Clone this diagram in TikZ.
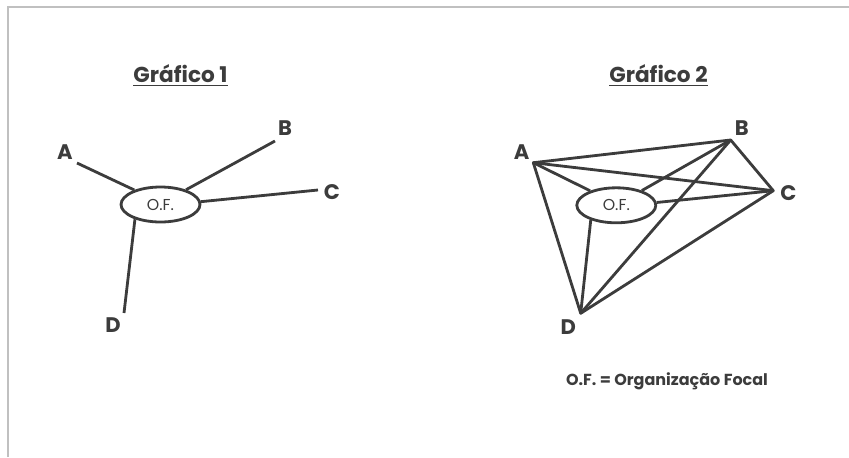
\documentclass[tikz,border=0pt]{standalone}
\usepackage{fontspec}
\setmainfont{Poppins}
\usetikzlibrary{shapes.geometric}
\definecolor{inkgray}{RGB}{60,60,60}
\definecolor{framegray}{RGB}{192,192,192}

\begin{document}
\begin{tikzpicture}[x=0.02cm, y=-0.02cm,
  edge/.style={inkgray, line width=1.6pt},
  ofnode/.style={ellipse, draw=inkgray, line width=1.6pt, minimum width=1.58cm,
    minimum height=0.70cm, inner sep=0pt, text=inkgray, font=\fontsize{9}{10}\selectfont},
  vlabel/.style={text=inkgray, inner sep=0pt, font=\fontsize{12}{13}\selectfont\bfseries},
  gtitle/.style={text=inkgray, inner sep=0pt, anchor=base, font=\fontsize{12.3}{13}\selectfont\bfseries},
  keytext/.style={text=inkgray, inner sep=0pt, font=\fontsize{9.1}{10}\selectfont\bfseries}]

  \useasboundingbox (0,0) rectangle (849,457);

  %--- frame, only top and left edge show ---
  \draw[framegray, line width=1.1pt] (8,457) -- (8,7) -- (849,7);

  %--- Graph 1: star round the focal organisation ---
  \node[gtitle] (title1) at (180.5,82.7) {\underline{Gráfico 1}};
  \node[ofnode] (of1) at (160.5,204.5) {O.F.};
  \coordinate (a1) at (77,163);
  \coordinate (b1) at (275,141);
  \coordinate (c1) at (318,190);
  \coordinate (d1) at (124,313);
  \node[vlabel] (la1) at (65,152) {A};
  \node[vlabel] (lb1) at (285,128) {B};
  \node[vlabel] (lc1) at (332,192) {C};
  \node[vlabel] (ld1) at (113,325) {D};
  \draw[edge] (a1) -- (of1.151);
  \draw[edge] (b1) -- (of1.30);
  \draw[edge] (c1) -- (of1.4);
  \draw[edge] (d1) -- (of1.210);

  %--- Graph 2: same star, all partners linked too ---
  \node[gtitle] (title2) at (658.5,82.7) {\underline{Gráfico 2}};
  \node[ofnode] (of2) at (616.3,205.3) {O.F.};
  \coordinate (a2) at (533.3,162.7);
  \coordinate (b2) at (730.7,140);
  \coordinate (c2) at (773.3,190.7);
  \coordinate (d2) at (580.7,313.3);
  \node[vlabel] (la2) at (521.7,151.7) {A};
  \node[vlabel] (lb2) at (741.7,128.3) {B};
  \node[vlabel] (lc2) at (788.3,193.3) {C};
  \node[vlabel] (ld2) at (568.3,326.7) {D};
  \draw[edge] (a2) -- (of2.151);
  \draw[edge] (b2) -- (of2.30);
  \draw[edge] (c2) -- (of2.4);
  \draw[edge] (d2) -- (of2.210);
  \draw[edge, line join=round] (a2) -- (b2) -- (c2) -- (d2) -- cycle;
  \draw[edge] (a2) -- (c2);
  \draw[edge] (b2) -- (d2);

  %--- key ---
  \node[keytext] (key) at (667,381) {O.F. = Organização Focal};

\end{tikzpicture}
\end{document}
